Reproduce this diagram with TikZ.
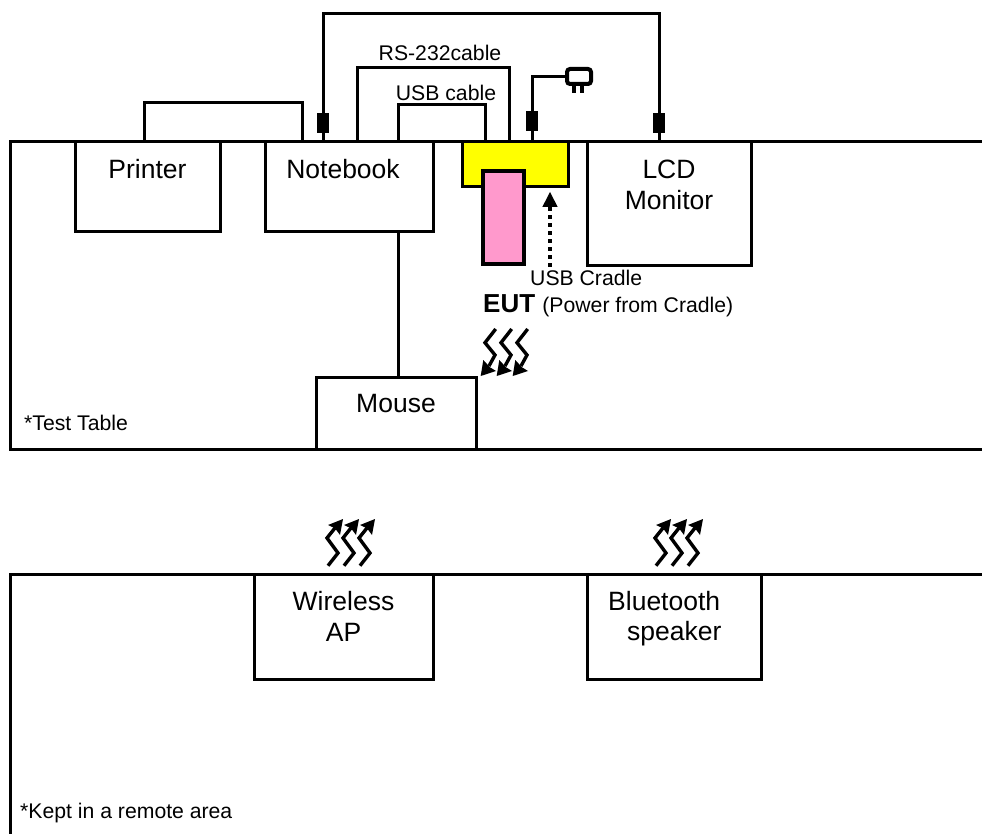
\documentclass[tikz,border=0pt]{standalone}
\usepackage{fontspec}
\setmainfont{Liberation Sans}
\definecolor{cradleyellow}{RGB}{255,255,0}
\definecolor{eutpink}{RGB}{255,153,204}
\tikzset{
  box/.style={draw,line width=3pt,fill=white,inner sep=0pt},
  cable/.style={line width=3pt},
  plugblock/.style={fill=black,inner sep=0pt,minimum width=12pt,minimum height=20pt},
  boxtext/.style={font=\fontsize{26.5}{31}\selectfont,align=center,inner sep=0pt},
  smalltext/.style={font=\fontsize{21.2}{25}\selectfont,inner sep=0pt},
  wave/.style={line width=3.4pt}
}
\begin{document}
\begin{tikzpicture}[x=1pt,y=-1pt]
    \useasboundingbox (0,0) rectangle (982,834);

    % Test table
    \draw[cable] (982,142) -- (10,142) -- (10,449) -- (982,449);
    \node[smalltext,anchor=west] (testtable) at (24,423) {*Test Table};

    % Equipment on the table
    \node[box,minimum width=145pt,minimum height=90pt] (printer) at (147.5,187) {};
    \node[boxtext] (printertext) at (147.5,169) {Printer};
    \node[box,minimum width=168pt,minimum height=90pt] (notebook) at (349,187) {};
    \node[boxtext] (notebooktext) at (343,169) {Notebook};
    \node[box,minimum width=164pt,minimum height=124pt] (monitor) at (669,204) {};
    \node[boxtext] (monitortext) at (669,185) {LCD\\Monitor};
    \node[box,minimum width=160pt,minimum height=72pt] (mouse) at (396,413) {};
    \node[boxtext] (mousetext) at (396,404) {Mouse};

    % Cradle and EUT
    \node[box,fill=cradleyellow,minimum width=106pt,minimum height=45pt] (cradle) at (515,164.5) {};
    \node[box,fill=eutpink,line width=4pt,minimum width=41pt,minimum height=93pt] (eut) at (503.5,217.5) {};
    \node[smalltext,anchor=west] (cradletext) at (530,278) {USB Cradle};
    \node[anchor=west,inner sep=0pt] (euttext) at (483,306) {\fontsize{26}{30}\selectfont\textbf{EUT} \fontsize{21.2}{25}\selectfont(Power from Cradle)};
    \coordinate (cradlemark) at (550,192);
    \draw[line width=3.6pt,dash pattern=on 4pt off 4pt] (550,267) -- (550,205);
    \fill (cradlemark) -- (557.7,207) -- (542.3,207) -- cycle;

    % Cables
    \coordinate (printerport) at (144,142);
    \coordinate (notebookport) at (302,142);
    \draw[cable] (printerport) -- ++(0,-39) -| (notebookport);
    \coordinate (rsleft) at (357,142);
    \coordinate (rsright) at (509,142);
    \draw[cable] (rsleft) -- ++(0,-74) -| (rsright);
    \node[smalltext] (rstext) at (440,53) {RS-232cable};
    \coordinate (usbleft) at (398,142);
    \coordinate (usbright) at (485,142);
    \draw[cable] (usbleft) -- ++(0,-37) -| (usbright);
    \node[smalltext] (usbtext) at (446,93) {USB cable};

    % Video cable
    \node[plugblock] (notebookplug) at (323,123) {};
    \node[plugblock] (monitorplug) at (659,123) {};
    \draw[cable] (notebookplug) -- ++(0,-109) -| (monitorplug);
    \draw[cable] (notebookplug) -- (323,142);
    \draw[cable] (monitorplug) -- (659,142);

    % Power cable
    \node[plugblock] (powerplug) at (532,121) {};
    \node[draw,line width=4pt,rounded corners=3pt,inner sep=0pt,minimum width=24pt,minimum height=15pt] (adapter) at (579,76.5) {};
    \draw[cable] (powerplug) -- (532,142);
    \draw[cable] (powerplug) |- (adapter.west);
    \draw[line width=3.4pt] (574,85) -- (574,93) (582,85) -- (582,93);

    % Notebook to mouse
    \draw[cable] (notebook.south -| 398,0) -- (mouse.north -| 398,0);

    % Radio links
    \foreach \dx in {0,16,32} {
        \draw[wave] (495.7+\dx,329) -- (485+\dx,342.7) -- (495+\dx,355) -- (489+\dx,366);
        \fill (480.7+\dx,376) -- (483.3+\dx,360) -- (490+\dx,367.3) -- (496+\dx,371) -- cycle;
    }
    \foreach \dx in {0,16,32,328,344,360} {
        \draw[wave] (328+\dx,565.7) -- (338+\dx,553) -- (327+\dx,538) -- (335+\dx,528);
        \fill (343+\dx,519) -- (328+\dx,525) -- (335+\dx,528.3) -- (340+\dx,535) -- cycle;
    }

    % Remote area
    \draw[cable] (982,574) -- (10,574) -- (10,834);
    \node[smalltext,anchor=west] (remotetext) at (20,813) {*Kept in a remote area};
    \node[box,minimum width=179pt,minimum height=105pt] (wireless) at (343.5,626.5) {};
    \node[boxtext] (wirelesstext) at (343.5,616) {Wireless\\AP};
    \node[box,minimum width=174pt,minimum height=105pt] (speaker) at (674,626.5) {};
    \node[boxtext,anchor=west] (speakertext) at (608,601) {Bluetooth};
    \node[boxtext,anchor=west] (speakertext2) at (627,634) {speaker};
\end{tikzpicture}
\end{document}
